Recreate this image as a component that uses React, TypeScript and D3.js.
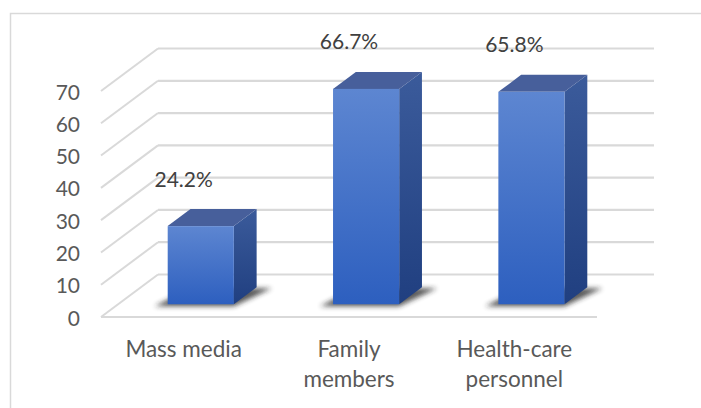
import * as d3 from 'd3';
import React, { useEffect, useRef } from 'react';

const categories: string[][] = [['Mass media'], ['Family', 'members'], ['Health-care', 'personnel']];
const values: number[] = [24.2, 66.7, 65.8];
const yTicks: number[] = [0, 10, 20, 30, 40, 50, 60, 70];

const App: React.FC = () => {
    const svgRef = useRef<SVGSVGElement>(null);

    useEffect(() => {
        if (!svgRef.current) return;
        d3.select(svgRef.current).selectAll('*').remove();

        const width = 701;
        const height = 408;
        const font = 'Lato, "Open Sans", sans-serif';
        const textColor = '#595959';
        const gridColor = '#d9d9d9';

        // oblique depth of the plot floor
        const DX = 57;
        const DY = -42.5;
        const f0 = 0.3;
        const f1 = 0.7;

        const svg = d3.select(svgRef.current)
            .attr('width', width)
            .attr('height', height);

        const x = d3.scaleBand<number>()
            .domain(values.map((_, i) => i))
            .range([101, 597])
            .paddingInner(0.6)
            .paddingOuter(0.3);

        const y = d3.scaleLinear().domain([0, 70]).range([317, 91]);

        const defs = svg.append('defs');
        const grad = (id: string, top: string, bottom: string) => {
            const g = defs.append('linearGradient').attr('id', id)
                .attr('x1', 0).attr('y1', 0).attr('x2', 0).attr('y2', 1);
            g.append('stop').attr('offset', '0%').attr('stop-color', top);
            g.append('stop').attr('offset', '100%').attr('stop-color', bottom);
        };
        grad('front', '#5d86d1', '#2d5fbf');
        grad('side', '#3b5b9b', '#203f80');
        defs.append('filter').attr('id', 'blur')
            .attr('x', '-20%').attr('y', '-50%').attr('width', '140%').attr('height', '200%')
            .append('feGaussianBlur').attr('stdDeviation', 2.5);

        // outer frame
        svg.append('rect')
            .attr('x', 10.5).attr('y', 13.5)
            .attr('width', 720).attr('height', 420)
            .attr('fill', 'none')
            .attr('stroke', gridColor)
            .attr('stroke-width', 1.5);

        const x0 = x.range()[0];
        const x1 = x.range()[1];

        // back wall gridlines + side wall diagonals
        yTicks.forEach((t) => {
            const yf = y(t);
            svg.append('line')
                .attr('x1', x0 + DX).attr('y1', yf + DY)
                .attr('x2', x1 + DX).attr('y2', yf + DY)
                .attr('stroke', gridColor).attr('stroke-width', 2.2);
            svg.append('line')
                .attr('x1', x0).attr('y1', yf)
                .attr('x2', x0 + DX).attr('y2', yf + DY)
                .attr('stroke', gridColor).attr('stroke-width', 2);
        });
        // floor front edge
        svg.append('line')
            .attr('x1', x0).attr('y1', y(0))
            .attr('x2', x1).attr('y2', y(0))
            .attr('stroke', gridColor).attr('stroke-width', 2.2);

        // y tick labels
        yTicks.forEach((t) => {
            svg.append('text')
                .attr('x', 80)
                .attr('y', y(t))
                .attr('text-anchor', 'end')
                .attr('dominant-baseline', 'central')
                .attr('font-family', font)
                .attr('font-size', 21)
                .attr('fill', textColor)
                .text(t);
        });

        const pts = (p: [number, number][]) => p.map(d => d.join(',')).join(' ');

        values.forEach((v, i) => {
            const bx = x(i)! + f0 * DX;
            const bw = x.bandwidth();
            const yb = y(0) + f0 * DY;
            const yt = y(v) + f0 * DY;
            const ddx = (f1 - f0) * DX;
            const ddy = (f1 - f0) * DY;

            // floor shadow
            svg.append('polygon')
                .attr('points', pts([
                    [bx - 13, yb + 2], [bx + bw, yb + 2],
                    [bx + bw + ddx + 15, yb + ddy + 1], [bx + ddx, yb + ddy + 1]
                ]))
                .attr('fill', '#222')
                .attr('opacity', 0.75)
                .attr('filter', 'url(#blur)');

            // side face
            svg.append('polygon')
                .attr('points', pts([
                    [bx + bw, yt], [bx + bw + ddx, yt + ddy],
                    [bx + bw + ddx, yb + ddy], [bx + bw, yb]
                ]))
                .attr('fill', 'url(#side)');

            // top face
            svg.append('polygon')
                .attr('points', pts([
                    [bx, yt], [bx + ddx, yt + ddy],
                    [bx + bw + ddx, yt + ddy], [bx + bw, yt]
                ]))
                .attr('fill', '#475f9b');

            // front face
            svg.append('rect')
                .attr('x', bx).attr('y', yt)
                .attr('width', bw).attr('height', yb - yt)
                .attr('fill', 'url(#front)');

            // value label
            svg.append('text')
                .attr('x', x(i)! + bw / 2)
                .attr('y', yt - 48)
                .attr('text-anchor', 'middle')
                .attr('dominant-baseline', 'central')
                .attr('font-family', font)
                .attr('font-size', 21)
                .attr('fill', '#404040')
                .text(`${v.toFixed(1)}%`);
        });

        // category labels
        categories.forEach((lines, i) => {
            const cx = x(i)! + x.bandwidth() / 2;
            lines.forEach((ln, j) => {
                svg.append('text')
                    .attr('x', cx)
                    .attr('y', 348 + j * 30)
                    .attr('text-anchor', 'middle')
                    .attr('dominant-baseline', 'central')
                    .attr('font-family', font)
                    .attr('font-size', 22.5)
                    .attr('fill', textColor)
                    .text(ln);
            });
        });
    }, []);

    return (
        <div style={{ position: 'absolute', left: 0, top: 0 }}>
            <svg ref={svgRef} style={{ display: 'block', background: '#fff' }}></svg>
        </div>
    );
};

export default App;
